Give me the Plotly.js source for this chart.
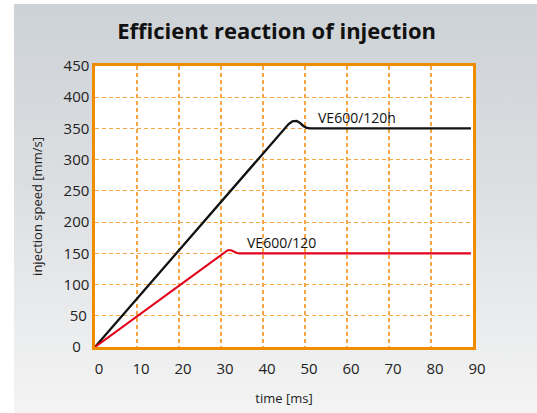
<!DOCTYPE html>
<html>
<head>
<meta charset="utf-8">
<script src="https://cdn.plot.ly/plotly-3.0.1.min.js"></script>
<style>
  html, body { margin: 0; padding: 0; background: #ffffff; }
  #bg { position: absolute; left: 14px; top: 4px; right: 0; bottom: 0;
        background: linear-gradient(to bottom, #cdd2d6 0%, #dcdfe2 45%, #f4f4f4 100%); }
  #chart { position: absolute; left: 0; top: 0; width: 537px; height: 413px; }
</style>
</head>
<body>
<div id="bg"></div>
<div id="chart"></div>
<script>
// Series: VE600/120h (black)
const timeH  = [0, 43.5, 44.5, 45.3, 46.1, 47, 48, 48.8, 49.6, 50.4, 51.2, 89.5];
const speedH = [0, 337, 345, 351, 357, 361.5, 362, 359, 354, 351, 350, 350];
// Series: VE600/120 (red)
const timeR  = [0, 29, 30, 30.8, 31.6, 32.4, 33.2, 33.8, 34.5, 89.5];
const speedR = [0, 143.5, 148.5, 152.5, 155, 155, 152.5, 150.5, 150, 150];

const xTicks = [0, 10, 20, 30, 40, 50, 60, 70, 80, 90];
const yTicks = [0, 50, 100, 150, 200, 250, 300, 350, 400, 450];
const yTickText = ['0\u2007', '50\u2009', '100', '150', '200', '250', '300', '350', '400', '450'];

const labelH = 'VE600/120h';
const labelR = 'VE600/120';

const orange = '#f08c00';
const gridOrange = '#f6a645';
const font = '"Open Sans", "DejaVu Sans", sans-serif';

const traces = [
  { x: timeH, y: speedH, mode: 'lines', line: { color: '#111111', width: 2.3 }, name: labelH, hoverinfo: 'skip' },
  { x: timeR, y: speedR, mode: 'lines', line: { color: '#e3001b', width: 2.1 }, name: labelR, hoverinfo: 'skip' }
];

const layout = {
  width: 537, height: 413,
  paper_bgcolor: 'rgba(0,0,0,0)',
  plot_bgcolor: '#ffffff',
  showlegend: false,
  margin: { l: 95, r: 64, t: 66, b: 66 },
  title: {
    text: '<b>Efficient reaction of injection</b>',
    font: { family: font, size: 22, color: '#111111' },
    x: 0.515, xanchor: 'center', y: 0.925, yanchor: 'middle'
  },
  xaxis: {
    range: [0, 90],
    tickvals: xTicks,
    ticktext: xTicks.map(String),
    showline: true, mirror: true, linecolor: orange, linewidth: 2.7,
    showgrid: true, gridcolor: gridOrange, gridwidth: 1.2, griddash: '4px,3px',
    zeroline: false, ticks: '',
    ticklabelshift: 4,
    ticklabelstandoff: 6,
    tickfont: { family: font, size: 15, color: '#222222' },
    title: { text: 'time [ms]', font: { family: font, size: 13, color: '#222222' }, standoff: 18 }
  },
  yaxis: {
    range: [0, 450],
    tickvals: yTicks,
    ticktext: yTickText,
    showline: true, mirror: true, linecolor: orange, linewidth: 2.7,
    showgrid: true, gridcolor: gridOrange, gridwidth: 1.2, griddash: '4px,3px',
    zeroline: false, ticks: '',
    tickfont: { family: font, size: 15, color: '#222222' },
    title: { text: 'injection speed [mm/s]', font: { family: font, size: 13, color: '#222222' }, standoff: 18 }
  },
  annotations: [
    { x: 52.5, y: 367, xref: 'x', yref: 'y', text: labelH, showarrow: false,
      xanchor: 'left', yanchor: 'middle', font: { family: font, size: 14, color: '#111111' } },
    { x: 35.8, y: 167, xref: 'x', yref: 'y', text: labelR, showarrow: false,
      xanchor: 'left', yanchor: 'middle', font: { family: font, size: 14, color: '#111111' } }
  ]
};

Plotly.newPlot('chart', traces, layout, { displayModeBar: false, staticPlot: true });
</script>
</body>
</html>
